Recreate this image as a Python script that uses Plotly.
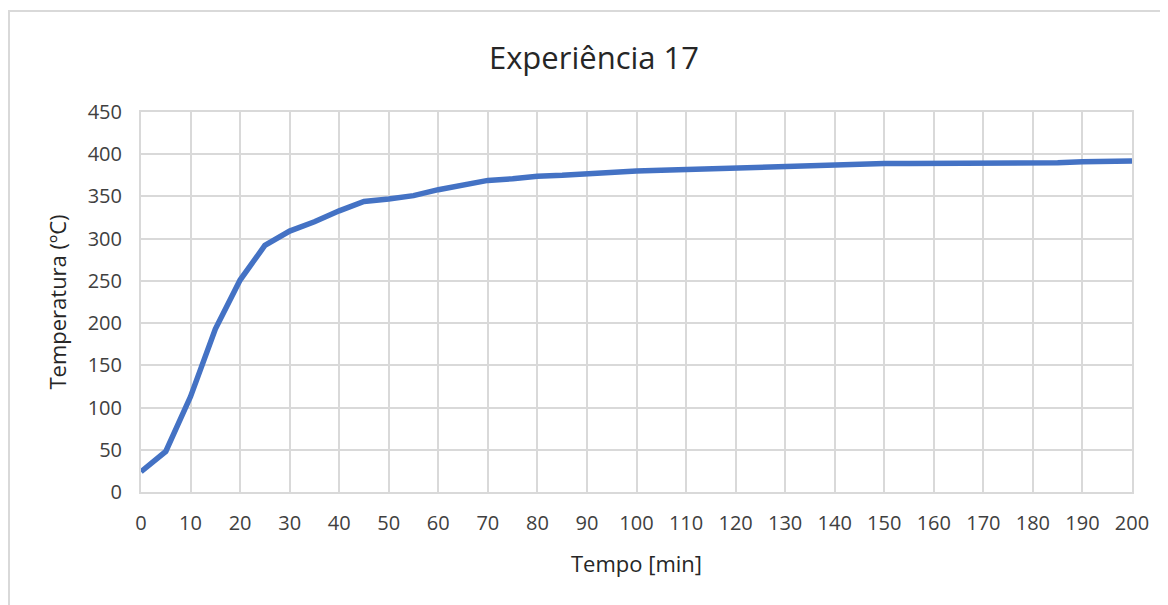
import plotly.graph_objects as go

# Tempo (min) and temperatura (ºC)
tempo = [0, 5, 10, 15, 20, 25, 30, 35, 40, 45, 50, 55, 60, 65, 70, 75, 80,
         85, 90, 95, 100, 105, 110, 115, 120, 125, 130, 135, 140, 145, 150,
         155, 160, 165, 170, 175, 180, 185, 190, 195, 200]
temperatura = [24, 48, 113, 193, 251, 292, 309, 320, 333, 344, 347, 351, 358,
               364, 369, 371, 374, 375, 377, 378, 380, 381, 382, 383, 384, 384,
               385, 386, 387, 388, 389, 389, 389, 390, 390, 390, 390, 390, 391,
               392, 392]

x_ticks = list(range(0, 201, 10))
y_ticks = list(range(0, 451, 50))

FONT = "Open Sans"
GRID = "#D9D9D9"
TEXT = "#404040"

fig = go.Figure()
fig.add_trace(go.Scatter(
    x=tempo, y=temperatura,
    mode="lines",
    line=dict(color="#4472C4", width=5.5),
    showlegend=False,
))

# outer chart border
fig.add_shape(
    type="rect", xref="paper", yref="paper",
    x0=-0.1332, x1=1.2, y0=-0.5, y1=1.266,
    line=dict(color=GRID, width=2), layer="below",
)

fig.update_layout(
    width=1168, height=605,
    paper_bgcolor="white", plot_bgcolor="white",
    margin=dict(l=133, r=44, t=104, b=121),
    font=dict(family=FONT, color=TEXT, size=20),
    title=dict(
        text="Experiência 17",
        x=0.5017, xanchor="center",
        y=0.917, yanchor="middle",
        font=dict(family=FONT, size=31, color="#262626"),
    ),
)
fig.update_xaxes(
    range=[0, 200], tickvals=x_ticks,
    showgrid=True, gridcolor=GRID, gridwidth=2,
    showline=True, linecolor=GRID, linewidth=2, mirror=True,
    zeroline=False, ticks="", ticklabelstandoff=12,
    title=dict(text="Tempo [min]", font=dict(size=22, color="#262626"), standoff=22),
)
fig.update_yaxes(
    range=[0, 450], tickvals=y_ticks,
    showgrid=True, gridcolor=GRID, gridwidth=2,
    showline=True, linecolor=GRID, linewidth=2, mirror=True,
    zeroline=False, ticks="", ticklabelstandoff=13,
    title=dict(text="Temperatura (ºC)", font=dict(size=22, color="#262626"), standoff=15),
)

fig.write_html("out.html")
